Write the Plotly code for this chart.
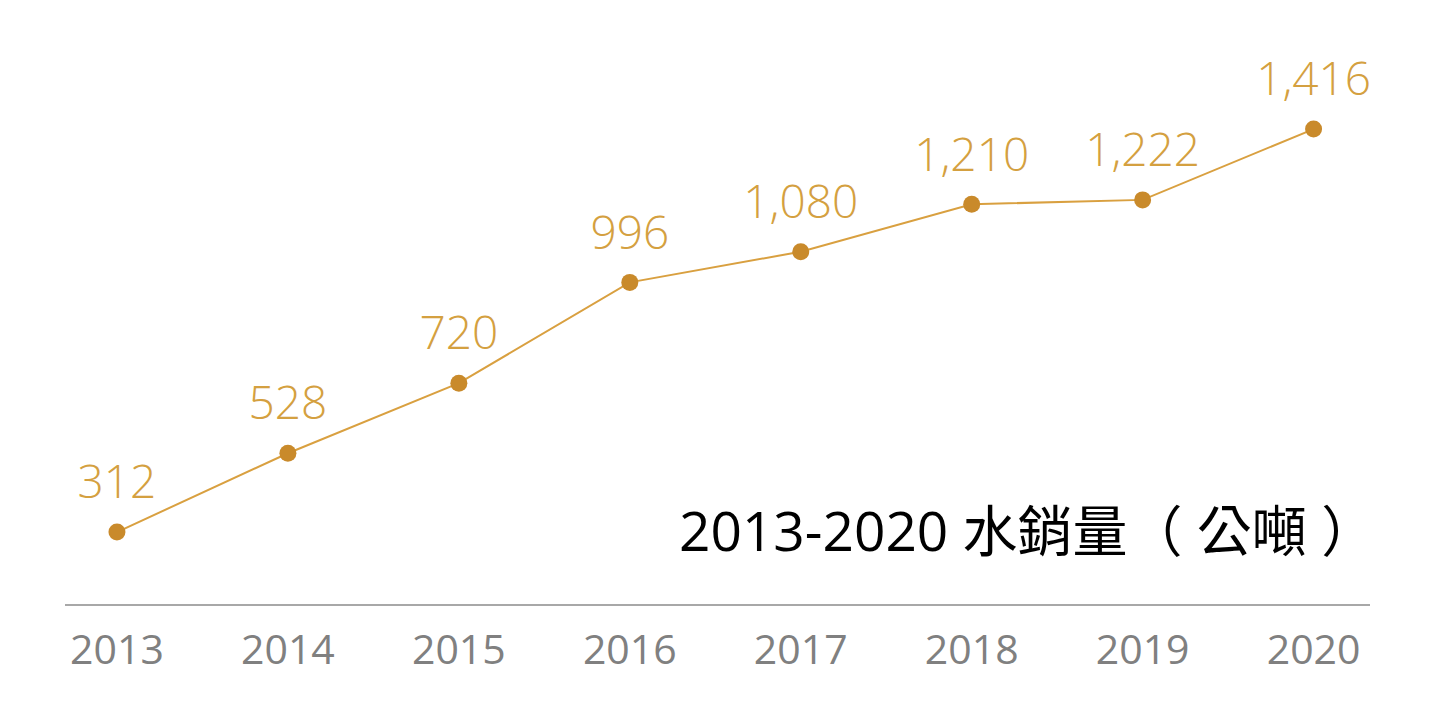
import plotly.graph_objects as go

years = ["2013", "2014", "2015", "2016", "2017", "2018", "2019", "2020"]
sales = [312, 528, 720, 996, 1080, 1210, 1222, 1416]
labels = [f"{v:,}" for v in sales]
title_text = "2013-2020 水銷量（ 公噸 ）"

fig = go.Figure()
fig.add_trace(go.Scatter(
    x=years, y=sales, mode="lines+markers",
    line=dict(color="#D9A040", width=2),
    marker=dict(color="#C98A2B", size=17),
    hoverinfo="skip",
))
# value labels (transparent large markers push the text further above the points)
fig.add_trace(go.Scatter(
    x=years, y=sales, mode="markers+text",
    text=labels, textposition="top center",
    textfont=dict(family="Open Sans", size=46, color="#D4A040", weight=300),
    marker=dict(size=34, opacity=0),
    hoverinfo="skip",
))

fig.add_annotation(
    text=title_text, xref="paper", yref="paper", x=1.0, y=0.0,
    xanchor="right", yanchor="bottom", yshift=35, xshift=8, showarrow=False,
    font=dict(family="Open Sans, Noto Sans CJK TC", size=55, color="#000000"),
)

fig.update_layout(
    width=1440, height=707,
    margin=dict(l=57, r=78, t=13, b=111),
    paper_bgcolor="white", plot_bgcolor="white",
    showlegend=False,
    xaxis=dict(
        type="category", range=[-0.304, 7.33],
        showgrid=False, zeroline=False,
        showline=True, linecolor="#A8A8A8", linewidth=1.5,
        ticks="", tickfont=dict(family="Open Sans", size=41, color="#808080"),
        ticklabelstandoff=9,
    ),
    yaxis=dict(
        range=[115, 1712], visible=False, showgrid=False, zeroline=False,
    ),
)

fig.write_html("out.html")
